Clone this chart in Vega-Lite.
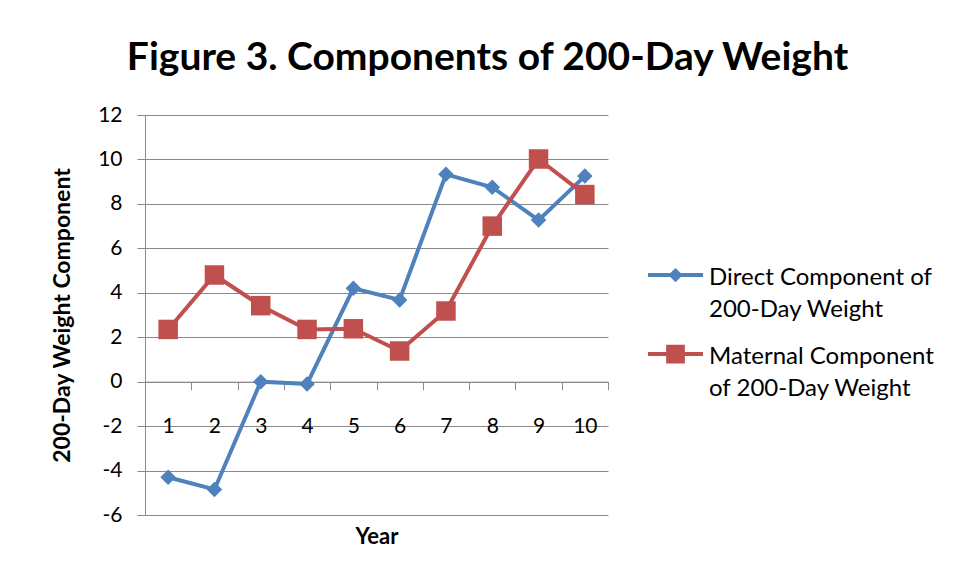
{
  "$schema": "https://vega.github.io/schema/vega-lite/v6.json",
  "width": 463,
  "height": 400,
  "autosize": "none",
  "padding": {"left": 145, "top": 115, "right": 345, "bottom": 65},
  "background": "white",
  "config": {
    "font": "Lato",
    "view": {"stroke": null},
    "axis": {"labelFont": "Lato", "titleFont": "Lato", "labelColor": "black", "titleColor": "black"},
    "style": {"guide-label": {"lineHeight": 32}}
  },
  "title": {
    "text": "Figure 3. Components of 200-Day Weight",
    "font": "Lato",
    "fontSize": 39,
    "fontWeight": "bold",
    "color": "black",
    "anchor": "middle",
    "frame": "group",
    "dx": 111,
    "baseline": "alphabetic",
    "offset": -5
  },
  "resolve": {
    "axis": {"x": "independent"},
    "legend": {"color": "independent", "shape": "independent"}
  },
  "data": {
    "values": [
      {"year": 1, "series": "Direct Component of 200-Day Weight", "value": -4.3},
      {"year": 2, "series": "Direct Component of 200-Day Weight", "value": -4.85},
      {"year": 3, "series": "Direct Component of 200-Day Weight", "value": 0.0},
      {"year": 4, "series": "Direct Component of 200-Day Weight", "value": -0.1},
      {"year": 5, "series": "Direct Component of 200-Day Weight", "value": 4.2},
      {"year": 6, "series": "Direct Component of 200-Day Weight", "value": 3.68},
      {"year": 7, "series": "Direct Component of 200-Day Weight", "value": 9.33},
      {"year": 8, "series": "Direct Component of 200-Day Weight", "value": 8.75},
      {"year": 9, "series": "Direct Component of 200-Day Weight", "value": 7.27},
      {"year": 10, "series": "Direct Component of 200-Day Weight", "value": 9.25},
      {"year": 1, "series": "Maternal Component of 200-Day Weight", "value": 2.35},
      {"year": 2, "series": "Maternal Component of 200-Day Weight", "value": 4.8},
      {"year": 3, "series": "Maternal Component of 200-Day Weight", "value": 3.42},
      {"year": 4, "series": "Maternal Component of 200-Day Weight", "value": 2.35},
      {"year": 5, "series": "Maternal Component of 200-Day Weight", "value": 2.38},
      {"year": 6, "series": "Maternal Component of 200-Day Weight", "value": 1.38},
      {"year": 7, "series": "Maternal Component of 200-Day Weight", "value": 3.18},
      {"year": 8, "series": "Maternal Component of 200-Day Weight", "value": 7.0},
      {"year": 9, "series": "Maternal Component of 200-Day Weight", "value": 10.02},
      {"year": 10, "series": "Maternal Component of 200-Day Weight", "value": 8.42}
    ]
  },
  "layer": [
    {
      "mark": {"type": "rule", "opacity": 0},
      "encoding": {
        "x": {
          "field": "year",
          "type": "quantitative",
          "scale": {"domain": [0.5, 10.5], "nice": false, "zero": false},
          "axis": {
            "orient": "bottom",
            "offset": -133.33,
            "values": [0.5, 1.5, 2.5, 3.5, 4.5, 5.5, 6.5, 7.5, 8.5, 9.5, 10.5],
            "labels": false,
            "ticks": true,
            "tickSize": 8,
            "tickColor": "#8a8a8a",
            "domainColor": "#8a8a8a",
            "grid": false,
            "title": null
          }
        },
        "y": {
          "field": "value",
          "type": "quantitative",
          "scale": {"domain": [-6, 12], "nice": false, "zero": false},
          "axis": {
            "values": [-6, -4, -2, 0, 2, 4, 6, 8, 10, 12],
            "labelExpr": "toString(datum.value)",
            "labelFontSize": 21,
            "labelPadding": 15,
            "tickSize": 8,
            "tickColor": "#8a8a8a",
            "domainColor": "#8a8a8a",
            "gridColor": "#8a8a8a",
            "grid": true,
            "title": "200-Day Weight Component",
            "titleFontSize": 23,
            "titleFontWeight": "bold",
            "titleX": -83,
            "titleBaseline": "middle"
          }
        }
      }
    },
    {
      "mark": {"type": "line", "strokeWidth": 4},
      "encoding": {
        "x": {
          "field": "year",
          "type": "quantitative",
          "axis": {
            "orient": "bottom",
            "offset": -133.33,
            "values": [1, 2, 3, 4, 5, 6, 7, 8, 9, 10],
            "ticks": false,
            "tickSize": 0,
            "domain": false,
            "grid": false,
            "labelFontSize": 21,
            "labelPadding": 45,
            "labelBaseline": "middle",
            "title": "Year",
            "titleFontSize": 22,
            "titleFontWeight": "bold",
            "titleY": 155,
            "titleBaseline": "middle"
          }
        },
        "y": {"field": "value", "type": "quantitative"},
        "color": {
          "field": "series",
          "type": "nominal",
          "scale": {
            "domain": ["Direct Component of 200-Day Weight", "Maternal Component of 200-Day Weight"],
            "range": ["#4F81BD", "#C0504D"]
          },
          "legend": null
        }
      }
    },
    {
      "transform": [{"filter": "datum.series == 'Direct Component of 200-Day Weight'"}],
      "mark": {"type": "point", "shape": "diamond", "filled": true, "opacity": 1, "size": 240, "color": "#4F81BD"},
      "encoding": {
        "x": {"field": "year", "type": "quantitative", "axis": null},
        "y": {"field": "value", "type": "quantitative"}
      }
    },
    {
      "transform": [{"filter": "datum.series == 'Maternal Component of 200-Day Weight'"}],
      "mark": {"type": "square", "filled": true, "opacity": 1, "size": 380, "color": "#C0504D"},
      "encoding": {
        "x": {"field": "year", "type": "quantitative", "axis": null},
        "y": {"field": "value", "type": "quantitative"}
      }
    },
    {
      "transform": [{"filter": "false"}],
      "mark": {"type": "point", "filled": true, "opacity": 1},
      "encoding": {
        "x": {"field": "year", "type": "quantitative", "axis": null},
        "y": {"field": "value", "type": "quantitative"},
        "color": {
          "field": "series",
          "type": "nominal",
          "legend": {
            "orient": "none",
            "legendX": 502,
            "legendY": 134,
            "title": null,
            "symbolSize": 3025,
            "symbolOpacity": 1,
            "labelFontSize": 24,
            "labelFont": "Lato",
            "labelColor": "black",
            "labelOffset": 5,
            "labelBaseline": "middle",
            "rowPadding": 6,
            "labelLimit": 300,
            "labelExpr": "datum.value == 'Direct Component of 200-Day Weight' ? ['Direct Component of', '200-Day Weight'] : ['Maternal Component', 'of 200-Day Weight']"
          }
        },
        "shape": {
          "field": "series",
          "type": "nominal",
          "scale": {
            "domain": ["Direct Component of 200-Day Weight", "Maternal Component of 200-Day Weight"],
            "range": [
              "M-1,-0.16L1,-0.16L1,-0.02L-1,-0.02Z M0,-0.35L0.26,-0.09L0,0.17L-0.26,-0.09Z",
              "M-1,-0.16L1,-0.16L1,-0.02L-1,-0.02Z M-0.34,-0.43L0.34,-0.43L0.34,0.25L-0.34,0.25Z"
            ]
          },
          "legend": {
            "orient": "none",
            "legendX": 502,
            "legendY": 134,
            "title": null,
            "symbolSize": 3025,
            "symbolOpacity": 1,
            "labelFontSize": 24,
            "labelFont": "Lato",
            "labelColor": "black",
            "labelOffset": 5,
            "labelBaseline": "middle",
            "rowPadding": 6,
            "labelLimit": 300,
            "labelExpr": "datum.value == 'Direct Component of 200-Day Weight' ? ['Direct Component of', '200-Day Weight'] : ['Maternal Component', 'of 200-Day Weight']"
          }
        }
      }
    }
  ]
}
